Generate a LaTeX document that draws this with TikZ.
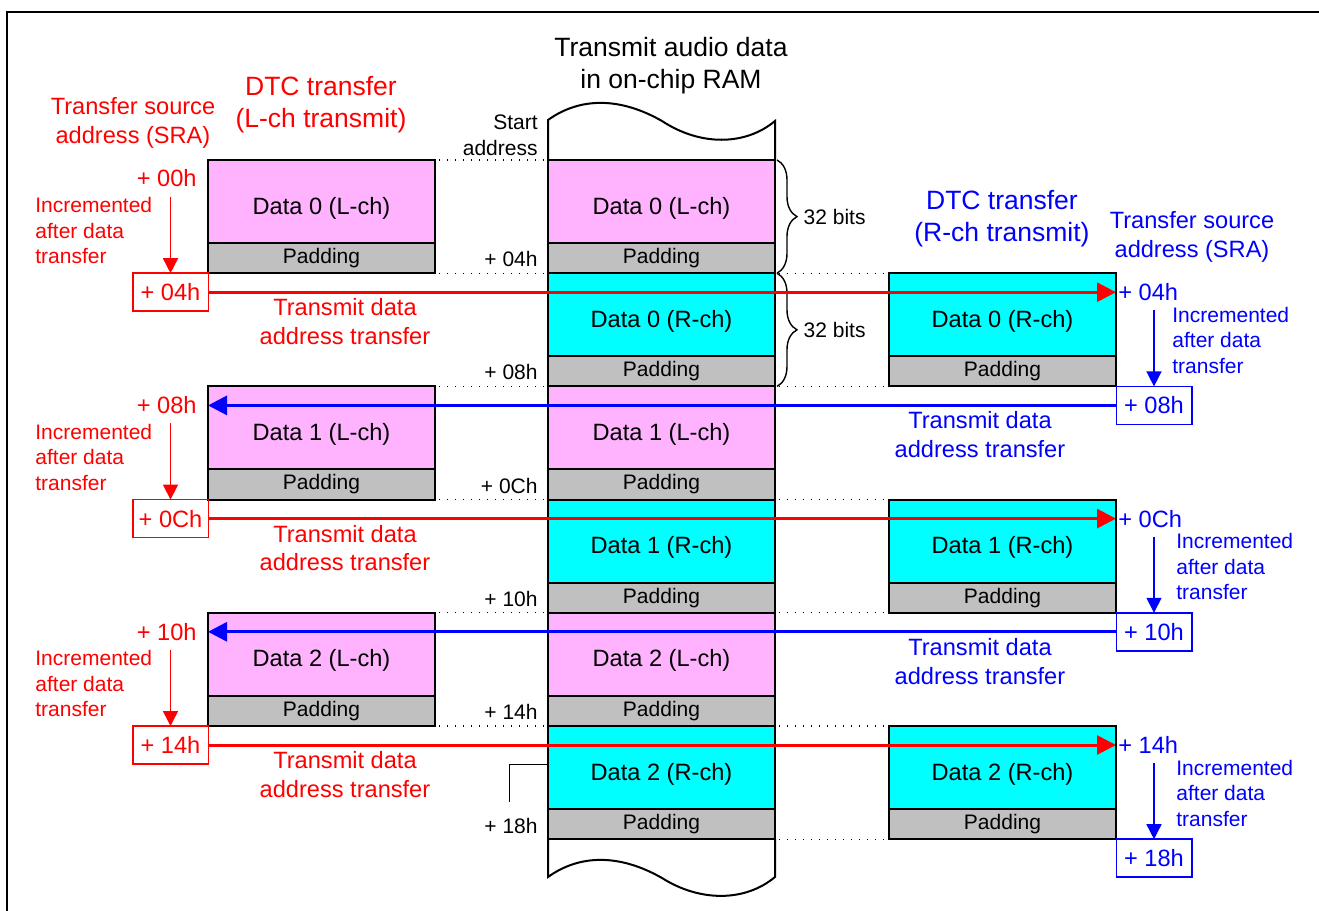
\documentclass[tikz,border=0pt]{standalone}
\usepackage{fontspec}
\setmainfont{Liberation Sans}
\usepackage{xcolor}
\usetikzlibrary{positioning,arrows.meta,decorations.pathreplacing}
\definecolor{chpink}{RGB}{255,179,255}
\definecolor{chcyan}{RGB}{0,255,255}
\definecolor{padgray}{RGB}{192,192,192}
\newcommand{\fsBig}{\fontsize{13.25pt}{16pt}\selectfont}
\newcommand{\fsMid}{\fontsize{11.8pt}{14.4pt}\selectfont}
\newcommand{\fsSml}{\fontsize{10.5pt}{12.75pt}\selectfont}

\begin{document}
\begin{tikzpicture}[x=0.5pt, y=-0.5pt,
  cell/.style={draw, line width=1pt, inner sep=0pt, outer sep=0pt, anchor=north west,
    minimum width=113.5pt, minimum height=41.5pt, text height=12.5pt, text depth=0pt, font=\fsMid},
  lcell/.style={cell, fill=chpink},
  rcell/.style={cell, fill=chcyan},
  padcell/.style={draw, line width=1pt, fill=padgray, inner sep=0pt, outer sep=0pt,
    anchor=north, minimum width=113.5pt, minimum height=15.1pt, font=\fsSml},
  addr/.style={anchor=east, inner sep=0pt, font=\fsSml},
  dots/.style={line width=0.6pt, dash pattern=on 0.6pt off 3.4pt, shorten <=2pt, shorten >=2pt},
  brace32/.style={decorate, decoration={brace, amplitude=10pt}, line width=0.7pt},
  bits/.style={midway, anchor=west, xshift=13pt, inner sep=0pt, font=\fsSml},
  rlab/.style={anchor=east, inner sep=0pt, text=red, font=\fsMid},
  blab/.style={anchor=west, inner sep=0pt, text=blue, font=\fsMid},
  rbox/.style={draw=red, line width=0.75pt, text=red, font=\fsMid, inner sep=0pt,
    outer sep=0pt, minimum width=37.75pt, minimum height=19pt},
  bbox/.style={rbox, draw=blue, text=blue},
  rarrow/.style={red, line width=1.5pt, -{Triangle[length=9.5pt,width=9.5pt]}},
  barrow/.style={rarrow, blue},
  rinc/.style={red, line width=0.75pt, shorten <=9pt, -{Triangle[length=7.5pt,width=7.5pt]}},
  binc/.style={rinc, blue},
  rnote/.style={anchor=west, align=left, inner sep=0pt, text=red, font=\fsSml},
  bnote/.style={rnote, text=blue},
  rtxt/.style={align=center, inner sep=0pt, text=red, font=\fsMid},
  btxt/.style={rtxt, text=blue}]
  \useasboundingbox (0,0) rectangle (1319,911);
  % frame
  \draw[line width=0.8pt] (7,911) -- (7,12) -- (1319,12);

  % headings
  \node[align=center, inner sep=0pt, font=\fsBig] (title) at (671,66) {Transmit audio data\\in on-chip RAM};
  \node[rtxt, font=\fsBig] (ldtc) at (321,105) {DTC transfer\\(L-ch transmit)};
  \node[rtxt] (lsra) at (133,123) {Transfer source\\address (SRA)};
  \node[btxt, font=\fsBig] (rdtc) at (1002,218.5) {DTC transfer\\(R-ch transmit)};
  \node[btxt] (rsra) at (1192,237) {Transfer source\\address (SRA)};

  % memory cells: left copy, RAM column, right copy
  \foreach \n/\yl in {0/160, 1/386.4, 2/612.8} {
    \node[lcell] (dL\n) at (208,\yl) {Data \n\ (L-ch)};
    \node[padcell] (pL\n) at (dL\n.south) {Padding};
    \node[lcell] (mL\n) at (548,\yl) {Data \n\ (L-ch)};
    \node[padcell] (mpL\n) at (mL\n.south) {Padding};
    \node[rcell] (mR\n) at (mpL\n.south west) {Data \n\ (R-ch)};
    \node[padcell] (mpR\n) at (mR\n.south) {Padding};
    \node[rcell] (dR\n) at ([xshift=170.5pt]mR\n.north west) {Data \n\ (R-ch)};
    \node[padcell] (pR\n) at (dR\n.south) {Padding};
    \draw[dots] (dL\n.north east) -- (mL\n.north west);
    \draw[dots] (pL\n.south east) -- (mpL\n.south west);
    \draw[dots] (mR\n.north east) -- (dR\n.north west);
    \draw[dots] (mpR\n.south east) -- (pR\n.south west);
  }

  % torn ends of the RAM column
  \draw[line width=1pt] (548,160) -- (548,120) .. controls (580,97) and (620,97) .. (662,121)
    .. controls (700,146) and (745,146) .. (775,121) -- (775,160);
  \draw[line width=1pt] (548,839.2) -- (548,877) .. controls (580,854) and (620,854) .. (662,878)
    .. controls (700,902) and (745,902) .. (775,877) -- (775,839.2);

  % RAM addresses
  \node[addr, align=right] (start) at (538,135.5) {Start\\address};
  \node[addr] (a04) at (538,259.2) {+ 04h};
  \node[addr] (a08) at (538,372.4) {+ 08h};
  \node[addr] (a0C) at (538,485.6) {+ 0Ch};
  \node[addr] (a10) at (538,598.8) {+ 10h};
  \node[addr] (a14) at (538,712) {+ 14h};
  \node[addr] (a18) at (538,826) {+ 18h};
  \coordinate (leadA) at (548,764);
  \coordinate (leadB) at (509,764);
  \coordinate (leadC) at (509,802);
  \draw[line width=0.5pt] (leadA) -- (leadB) -- (leadC);

  % 32-bit braces
  \draw[brace32] ([xshift=1pt]mL0.north east) -- ([xshift=1pt]mpL0.south east) node[bits] (bitsA) {32 bits};
  \draw[brace32] ([xshift=1pt]mR0.north east) -- ([xshift=1pt]mpR0.south east) node[bits] (bitsB) {32 bits};

  % source addresses, L-ch
  \node[rlab] (ra0) at (197,178.5) {+ 00h};
  \node[rbox] (ra1) at (170.5,292.2) {+ 04h};
  \node[rlab] (ra2) at (197,405.4) {+ 08h};
  \node[rbox] (ra3) at (170.5,518.6) {+ 0Ch};
  \node[rlab] (ra4) at (197,631.8) {+ 10h};
  \node[rbox] (ra5) at (170.5,745) {+ 14h};
  % source addresses, R-ch
  \node[blab] (ba0) at (1118,292.2) {+ 04h};
  \node[bbox] (ba1) at (1154,405.4) {+ 08h};
  \node[blab] (ba2) at (1118,518.6) {+ 0Ch};
  \node[bbox] (ba3) at (1154,631.8) {+ 10h};
  \node[blab] (ba4) at (1118,745) {+ 14h};
  \node[bbox] (ba5) at (1154,858.2) {+ 18h};

  % increments
  \draw[rinc] (ra0 -| ra1) -- (ra1.north);
  \draw[rinc] (ra2 -| ra3) -- (ra3.north);
  \draw[rinc] (ra4 -| ra5) -- (ra5.north);
  \draw[binc] (ba0 -| ba1) -- (ba1.north);
  \draw[binc] (ba2 -| ba3) -- (ba3.north);
  \draw[binc] (ba4 -| ba5) -- (ba5.north);
  \node[rnote] (ri0) at (35,230.5) {Incremented\\after data\\transfer};
  \node[rnote] (ri1) at (35,457.4) {Incremented\\after data\\transfer};
  \node[rnote] (ri2) at (35,683.8) {Incremented\\after data\\transfer};
  \node[bnote] (bi0) at (1172,340.2) {Incremented\\after data\\transfer};
  \node[bnote] (bi1) at (1176,566.6) {Incremented\\after data\\transfer};
  \node[bnote] (bi2) at (1176,793) {Incremented\\after data\\transfer};

  % address transfers
  \draw[rarrow] (ra1.east) -- (ra1 -| dR0.east);
  \draw[rarrow] (ra3.east) -- (ra3 -| dR1.east);
  \draw[rarrow] (ra5.east) -- (ra5 -| dR2.east);
  \draw[barrow] (ba1.west) -- (ba1 -| dL1.west);
  \draw[barrow] (ba3.west) -- (ba3 -| dL2.west);
  \node[rtxt] (rt0) at (345,321.7) {Transmit data\\address transfer};
  \node[rtxt] (rt1) at (345,548.1) {Transmit data\\address transfer};
  \node[rtxt] (rt2) at (345,774.5) {Transmit data\\address transfer};
  \node[btxt] (bt0) at (980,434.9) {Transmit data\\address transfer};
  \node[btxt] (bt1) at (980,661.3) {Transmit data\\address transfer};
\end{tikzpicture}
\end{document}
